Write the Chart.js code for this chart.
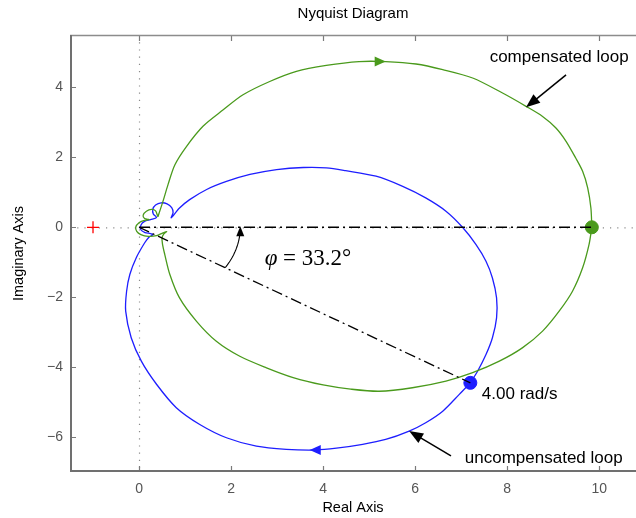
<!DOCTYPE html>
<html>
<head>
<meta charset="utf-8">
<script src="https://cdn.jsdelivr.net/npm/chart.js@4.4.1/dist/chart.umd.min.js"></script>
<style>
  html, body { margin: 0; padding: 0; background: #fff; }
  #wrap { width: 636px; height: 518px; position: relative; }
</style>
</head>
<body>
<div id="wrap"><canvas id="nyquistChart"></canvas></div>
<script>
// axis ticks
const xTicks = [0, 2, 4, 6, 8, 10];
const yTicks = [-6, -4, -2, 0, 2, 4];

// compensated loop (in order along the curve)
const compRe = [9.84, 9.82, 9.75, 9.64, 9.49, 9.28, 9.06, 8.77, 8.41, 7.90, 7.25, 6.60, 6.02, 5.36, 4.78,
  4.07, 3.42, 2.84, 2.26, 1.83, 1.39, 1.03, 0.78, 0.63, 0.52, 0.43, 0.41, 0.36, 0.27, 0.16, 0.09, 0.12, 0.22,
  0.10, 0.00, -0.07, -0.05, 0.04, 0.20, 0.38, 0.52, 0.60, 0.54, 0.50, 0.51, 0.56, 0.67, 0.88, 1.25, 1.68,
  2.19, 2.77, 3.35, 4.00, 4.60, 5.22, 5.94, 6.67, 7.25, 7.83, 8.33, 8.77, 9.13, 9.42, 9.64, 9.78, 9.84];
const compIm = [0.00, 0.55, 1.13, 1.60, 1.98, 2.46, 2.84, 3.17, 3.46, 3.84, 4.27, 4.51, 4.67, 4.74, 4.74,
  4.63, 4.46, 4.17, 3.79, 3.36, 2.89, 2.31, 1.79, 1.22, 0.74, 0.38, 0.31, 0.47, 0.51, 0.46, 0.35, 0.25, 0.22,
  0.19, 0.13, 0.01, -0.12, -0.21, -0.26, -0.24, -0.16, -0.12, -0.19, -0.30, -0.48, -0.78, -1.35, -2.02, -2.69, -3.26,
  -3.69, -4.02, -4.30, -4.51, -4.63, -4.69, -4.59, -4.40, -4.16, -3.83, -3.45, -2.97, -2.40, -1.83, -1.16, -0.49, 0.00];

// uncompensated loop
const uncompRe = [7.20, 7.36, 7.54, 7.68, 7.77, 7.77, 7.68, 7.54, 7.32, 7.03, 6.67, 6.23, 5.73, 5.15, 4.49,
  4.07, 3.57, 2.99, 2.41, 1.90, 1.47, 1.10, 0.88, 0.70, 0.74, 0.71, 0.61, 0.48, 0.36, 0.30, 0.31, 0.38,
  0.25, 0.12, 0.04, 0.04, 0.13, 0.25, 0.30, 0.21, 0.12, -0.06, -0.20, -0.27, -0.29, -0.17, 0.05, 0.38,
  0.81, 1.32, 1.90, 2.55, 3.20, 3.82, 4.29, 4.86, 5.36, 5.87, 6.23, 6.60, 6.96, 7.20];
const uncompIm = [-4.45, -4.11, -3.64, -3.16, -2.59, -2.02, -1.45, -0.97, -0.49, 0.00, 0.46, 0.84, 1.17, 1.46, 1.62,
  1.70, 1.71, 1.65, 1.51, 1.31, 1.08, 0.79, 0.55, 0.27, 0.42, 0.56, 0.67, 0.70, 0.64, 0.52, 0.38, 0.28,
  0.22, 0.17, 0.06, -0.07, -0.15, -0.18, -0.21, -0.29, -0.45, -0.87, -1.35, -1.83, -2.40, -3.16, -3.83, -4.49,
  -5.16, -5.64, -6.02, -6.26, -6.35, -6.37, -6.32, -6.21, -6.07, -5.83, -5.59, -5.26, -4.78, -4.45];

// marked points
const crossRe = [7.20];   // 4.00 rad/s on uncompensated loop
const crossIm = [-4.45];
const startRe = [9.84];   // compensated loop on the real axis
const startIm = [0];
const criticalRe = [-1];
const criticalIm = [0];
const phaseMargin = 33.2;

const GREEN = '#4a9a1c';
const BLUE = '#1e1eff';

function toPoints(re, im) {
  return re.map((v, i) => ({ x: v, y: im[i] }));
}

function arrowHead(ctx, x, y, ang, len, half, color) {
  ctx.save();
  ctx.translate(x, y);
  ctx.rotate(ang);
  ctx.fillStyle = color;
  ctx.beginPath();
  ctx.moveTo(0, 0);
  ctx.lineTo(-len, -half);
  ctx.lineTo(-len, half);
  ctx.closePath();
  ctx.fill();
  ctx.restore();
}

function dashedLine(ctx, x1, y1, x2, y2, dash, color, width) {
  ctx.save();
  ctx.strokeStyle = color;
  ctx.lineWidth = width;
  ctx.setLineDash(dash);
  ctx.beginPath();
  ctx.moveTo(x1, y1);
  ctx.lineTo(x2, y2);
  ctx.stroke();
  ctx.restore();
}

const decor = {
  id: 'decor',
  beforeDatasetsDraw(chart) {
    const { ctx, chartArea: a, scales: { x, y } } = chart;
    const x0 = x.getPixelForValue(0), y0 = y.getPixelForValue(0);
    dashedLine(ctx, x0 + 0.5, a.top, x0 + 0.5, a.bottom, [1.2, 6], '#8a8a8a', 1.2);
    dashedLine(ctx, a.left, y0 + 0.5, a.right, y0 + 0.5, [1.2, 6], '#8a8a8a', 1.2);
  },
  afterDatasetsDraw(chart) {
    const { ctx, scales: { x, y } } = chart;
    const px = v => x.getPixelForValue(v), py = v => y.getPixelForValue(v);

    // direction arrows on the loops
    arrowHead(ctx, px(5.36), py(4.74), 0, 11, 5, GREEN);
    arrowHead(ctx, px(3.71), py(-6.37), Math.PI, 11, 5, BLUE);

    // angle arc between real axis and line to the 4 rad/s point
    const r = 2.2;
    const a0 = Math.atan2(crossIm[0], crossRe[0]);
    ctx.save();
    ctx.strokeStyle = '#000';
    ctx.lineWidth = 1.1;
    ctx.beginPath();
    const n = 24;
    for (let i = 0; i <= n; i++) {
      const t = a0 + (0 - a0) * i / n * 0.93;
      const X = px(r * Math.cos(t)), Y = py(r * Math.sin(t));
      if (i === 0) ctx.moveTo(X, Y); else ctx.lineTo(X, Y);
    }
    ctx.stroke();
    ctx.restore();
    arrowHead(ctx, px(r), py(0) - 1, -Math.PI / 2, 10, 4, '#000');

    // callout arrows
    const callouts = [
      [9.28, 4.36, 8.41, 3.43],
      [6.78, -6.54, 5.87, -5.83]
    ];
    callouts.forEach(([x1, y1, x2, y2]) => {
      const X1 = px(x1), Y1 = py(y1), X2 = px(x2), Y2 = py(y2);
      const ang = Math.atan2(Y2 - Y1, X2 - X1);
      ctx.save();
      ctx.strokeStyle = '#000';
      ctx.lineWidth = 1.5;
      ctx.beginPath();
      ctx.moveTo(X1, Y1);
      ctx.lineTo(X2 - 8 * Math.cos(ang), Y2 - 8 * Math.sin(ang));
      ctx.stroke();
      ctx.restore();
      arrowHead(ctx, X2, Y2, ang, 14, 5.5, '#000');
    });

    // labels
    ctx.save();
    ctx.fillStyle = '#000';
    ctx.textBaseline = 'middle';
    ctx.textAlign = 'left';
    ctx.font = '17px "Liberation Sans", Arial, sans-serif';
    ctx.fillText('compensated loop', px(7.62), py(4.85));
    ctx.fillText('4.00 rad/s', px(7.45), py(-4.78));
    ctx.fillText('uncompensated loop', px(7.08), py(-6.61));
    // phase margin label
    let tx = px(2.73);
    const ty = py(-0.92);
    ctx.font = 'italic 23px "Liberation Serif", "DejaVu Serif", serif';
    ctx.fillText('\u03c6', tx, ty);
    tx += ctx.measureText('\u03c6').width;
    ctx.font = '23px "Liberation Serif", "DejaVu Serif", serif';
    ctx.fillText(' = ' + phaseMargin.toFixed(1) + '\u00b0', tx, ty);
    ctx.restore();
  },
  afterDraw(chart) {
    const { ctx, chartArea: a, scales: { x, y } } = chart;
    ctx.save();
    ctx.strokeStyle = '#7a7a7a';
    // inward tick marks
    ctx.lineWidth = 1.2;
    ctx.beginPath();
    xTicks.forEach(v => {
      const X = Math.round(x.getPixelForValue(v)) + 0.5;
      ctx.moveTo(X, a.bottom); ctx.lineTo(X, a.bottom - 6);
      ctx.moveTo(X, a.top); ctx.lineTo(X, a.top + 6);
    });
    yTicks.forEach(v => {
      const Y = Math.round(y.getPixelForValue(v)) + 0.5;
      ctx.moveTo(a.left, Y); ctx.lineTo(a.left + 6, Y);
    });
    ctx.stroke();
    // frame
    ctx.lineWidth = 1.5;
    ctx.strokeStyle = '#8c8c8c';
    ctx.beginPath();
    ctx.moveTo(a.left, a.top + 0.5); ctx.lineTo(a.right, a.top + 0.5);
    ctx.stroke();
    ctx.lineWidth = 2;
    ctx.strokeStyle = '#707070';
    ctx.beginPath();
    ctx.moveTo(a.left + 1, a.top); ctx.lineTo(a.left + 1, a.bottom - 1); ctx.lineTo(a.right, a.bottom - 1);
    ctx.stroke();

    // titles
    const cx = (a.left + a.right) / 2;
    ctx.fillStyle = '#000';
    ctx.textAlign = 'center';
    ctx.textBaseline = 'middle';
    ctx.font = '15px "Liberation Sans", Arial, sans-serif';
    ctx.fillText('Nyquist Diagram', cx, 14);
    ctx.font = '14.5px "Liberation Sans", Arial, sans-serif';
    ctx.fillText('Real Axis', cx, 508);
    ctx.translate(19, (a.top + a.bottom) / 2);
    ctx.rotate(-Math.PI / 2);
    ctx.fillText('Imaginary Axis', 0, 0);
    ctx.restore();
  }
};

const noPad = s => { s.paddingLeft = 0; s.paddingRight = 0; s.paddingTop = 0; s.paddingBottom = 0; };

const ctx = document.getElementById('nyquistChart');
new Chart(ctx, {
  type: 'scatter',
  data: {
    datasets: [
      {
        label: 'real axis ref',
        data: [{ x: 0, y: 0 }, { x: startRe[0], y: startIm[0] }],
        showLine: true,
        borderColor: '#000',
        borderWidth: 1.5,
        borderDash: [11, 4, 2, 4],
        pointRadius: 0
      },
      {
        label: 'phase line',
        data: [{ x: 0, y: 0 }, { x: crossRe[0], y: crossIm[0] }],
        showLine: true,
        borderColor: '#000',
        borderWidth: 1.3,
        borderDash: [11, 4, 2, 4],
        pointRadius: 0
      },
      {
        label: 'compensated loop',
        data: toPoints(compRe, compIm),
        showLine: true,
        borderColor: GREEN,
        borderWidth: 1.3,
        tension: 0.3,
        pointRadius: 0
      },
      {
        label: 'uncompensated loop',
        data: toPoints(uncompRe, uncompIm),
        showLine: true,
        borderColor: BLUE,
        borderWidth: 1.3,
        tension: 0.3,
        pointRadius: 0
      },
      {
        label: 'start',
        data: toPoints(startRe, startIm),
        pointRadius: 6.5,
        backgroundColor: GREEN,
        borderColor: GREEN
      },
      {
        label: '4 rad/s',
        data: toPoints(crossRe, crossIm),
        pointRadius: 6.5,
        backgroundColor: BLUE,
        borderColor: BLUE
      },
      {
        label: 'critical point',
        data: toPoints(criticalRe, criticalIm),
        pointStyle: 'cross',
        pointRadius: 6,
        borderWidth: 1.3,
        borderColor: '#ff0000'
      }
    ]
  },
  options: {
    responsive: true,
    maintainAspectRatio: false,
    animation: false,
    layout: { autoPadding: false, padding: { top: 35, left: 0, right: 0, bottom: 0 } },
    plugins: {
      legend: { display: false },
      tooltip: { enabled: false },
      title: { display: false }
    },
    scales: {
      x: {
        type: 'linear',
        min: -1.5,
        max: 10.8,
        grid: { display: false, drawTicks: false },
        border: { display: false },
        afterBuildTicks: s => { s.ticks = xTicks.map(v => ({ value: v })); },
        afterFit: s => { s.height = 46; noPad(s); },
        ticks: {
          padding: 9,
          color: '#555',
          font: { size: 14, family: '"Liberation Sans", Arial, sans-serif' },
          callback: v => String(v).replace('-', '\u2212')
        }
      },
      y: {
        type: 'linear',
        min: -7,
        max: 5.5,
        grid: { display: false, drawTicks: false },
        border: { display: false },
        afterBuildTicks: s => { s.ticks = yTicks.map(v => ({ value: v })); },
        afterFit: s => { s.width = 70; noPad(s); },
        ticks: {
          padding: 7,
          color: '#555',
          font: { size: 14, family: '"Liberation Sans", Arial, sans-serif' },
          callback: v => String(v).replace('-', '\u2212')
        }
      }
    }
  },
  plugins: [decor]
});
</script>
</body>
</html>
